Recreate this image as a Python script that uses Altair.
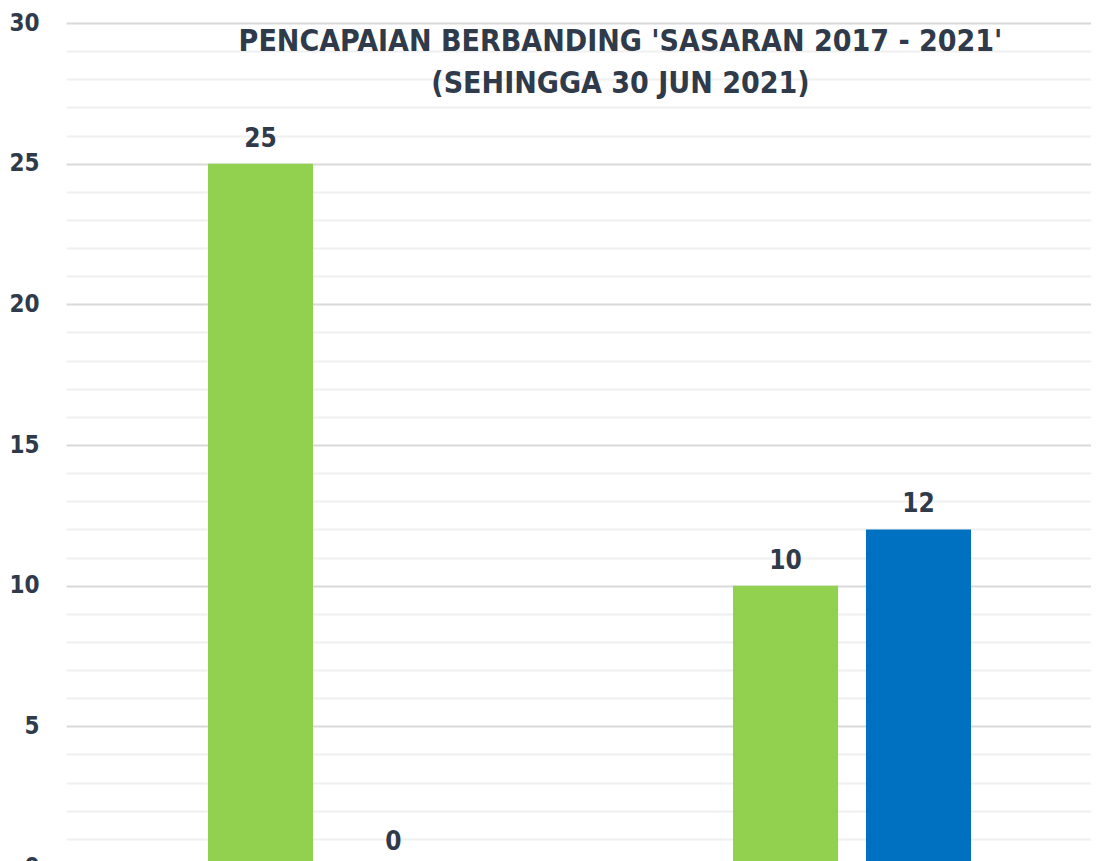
import altair as alt
import pandas as pd

groups = ["Kategori A", "Kategori A", "Kategori B", "Kategori B"]
series = ["Sasaran", "Pencapaian", "Sasaran", "Pencapaian"]
values = [25, 0, 10, 12]
series_order = ["Sasaran", "Pencapaian"]
series_colors = ["#92D050", "#0070C0"]
y_ticks = list(range(0, 31))
title_lines = ["PENCAPAIAN BERBANDING 'SASARAN 2017 - 2021'", "(SEHINGGA 30 JUN 2021)"]

df = pd.DataFrame({"group": groups, "series": series, "value": values})

FONT = "Liberation Sans Narrow, DejaVu Sans Condensed, Roboto, sans-serif"
TEXT = "#2F3A4A"

x = alt.X("group:N", title=None,
          scale=alt.Scale(paddingInner=0.5467, paddingOuter=0.2495, align=0.542),
          axis=alt.Axis(labels=False, ticks=False, domain=False, grid=False))
xo = alt.XOffset("series:N", sort=series_order,
                 scale=alt.Scale(paddingInner=0.21, paddingOuter=0))
y = alt.Y("value:Q", title=None,
          scale=alt.Scale(domain=[0, 30], nice=False),
          axis=alt.Axis(values=y_ticks,
                        labelExpr="datum.value % 5 === 0 ? datum.label : ''",
                        gridColor={"condition": {"test": "datum.value % 5 === 0", "value": "#D9D9D9"}, "value": "#F0F0F0"},
                        gridWidth=2, ticks=False, domain=False,
                        labelFont=FONT, labelFontSize=24, labelFontWeight="bold",
                        labelColor=TEXT, labelPadding=27))

base = alt.Chart(df).encode(x=x, xOffset=xo, y=y)

bars = base.mark_bar().encode(
    color=alt.Color("series:N", sort=series_order,
                    scale=alt.Scale(domain=series_order, range=series_colors),
                    legend=None)
)
labels = base.mark_text(dy=-17, baseline="alphabetic", font=FONT, fontSize=26,
                        fontWeight="bold", color=TEXT).encode(text=alt.Text("value:Q"))

chart = alt.layer(bars, labels).properties(
    width=1025, height=844,
    background="white",
    title=alt.Title(title_lines, font=FONT, fontSize=30, fontWeight="bold", color=TEXT,
                    anchor="middle", offset=-88, lineHeight=42, dx=42),
    autosize=alt.AutoSizeParams(type="none"),
    padding={"left": 58, "top": 15, "right": 0, "bottom": 0},
).configure_view(stroke=None)

chart.save("out.html", embed_options={"renderer": "svg", "actions": False})
